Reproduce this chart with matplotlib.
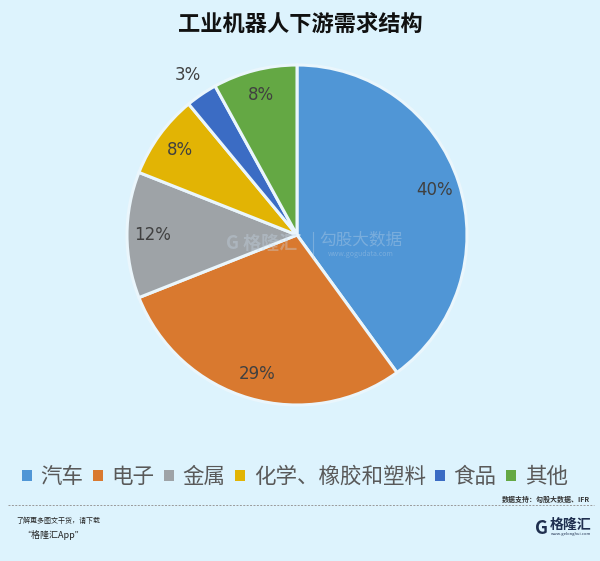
import matplotlib
matplotlib.use('Agg')
import matplotlib.pyplot as plt
import numpy as np
from matplotlib.patches import Patch
from matplotlib.lines import Line2D

plt.rcParams['font.family'] = ['Noto Sans CJK SC', 'DejaVu Sans']

# 数据
categories = ['汽车', '电子', '金属', '化学、橡胶和塑料', '食品', '其他']
shares = [40, 29, 12, 8, 3, 8]
colors = ['#5096D6', '#D9792F', '#9EA3A7', '#E2B404', '#3B6CC4', '#64A844']

bg = '#DDF3FD'
fig = plt.figure(figsize=(6, 5.61), dpi=100, facecolor=bg)
ax = fig.add_axes([297/600 - 170/600, 1 - 235/561 - 170/561, 340/600, 340/561])
ax.set_facecolor(bg)

wedges, texts = ax.pie(shares, colors=colors, startangle=90, counterclock=False,
                       wedgeprops=dict(edgecolor='#EAF6FC', linewidth=2.2),
                       radius=1.0)
ax.set_aspect('equal')
ax.set_xlim(-1, 1)
ax.set_ylim(-1, 1)

# 百分比标签
for w, v in zip(wedges, shares):
    ang = np.deg2rad((w.theta1 + w.theta2) / 2)
    r = 1.14 if v < 5 else 0.85
    ax.text(r * np.cos(ang), r * np.sin(ang), f'{v}%', ha='center', va='center',
            fontsize=12, color='#404040', family=['DejaVu Sans'])

fig.text(0.5, 1 - 24/561, '工业机器人下游需求结构', ha='center', va='center',
         fontsize=16, fontweight='bold', color='#111111')

# 水印
fig.text(262/600, 1 - 243/561, 'G 格隆汇', ha='center', va='center', fontsize=13,
         fontweight='bold', color='#C8D8E8', alpha=0.35)
fig.text(361/600, 1 - 240/561, '勾股大数据', ha='center', va='center', fontsize=12,
         color='#C8D8E8', alpha=0.35)
fig.text(361/600, 1 - 254/561, 'www.gogudata.com', ha='center', va='center', fontsize=5,
         color='#C8D8E8', alpha=0.35)
fig.add_artist(Line2D([313/600] * 2, [1 - 232/561, 1 - 258/561], color='#C8D8E8',
                      alpha=0.35, linewidth=0.8))

handles = [Patch(facecolor=c, edgecolor='none') for c in colors]
fig.legend(handles, categories, loc='center', bbox_to_anchor=(295/600, 1 - 477/561),
           ncol=6, frameon=False, fontsize=15.5, labelcolor='#595959',
           handlelength=0.45, handleheight=0.45, handletextpad=0.4,
           columnspacing=0.45, borderaxespad=0, borderpad=0)

fig.text(590/600, 1 - 499/561, '数据支持：勾股大数据、IFR', ha='right', va='center',
         fontsize=5, color='#333333', fontweight='bold')
fig.add_artist(Line2D([8/600, 594/600], [1 - 505/561] * 2, color='#999999',
                      linestyle=(0, (2, 1.5)), linewidth=0.7))

fig.text(16/600, 1 - 521/561, '了解更多图文干货，请下载', ha='left', va='center',
         fontsize=5, style='italic', color='#222222')
fig.text(22/600, 1 - 535/561, '“格隆汇App”', ha='left', va='center',
         fontsize=6.5, style='italic', color='#222222')
fig.text(542/600, 1 - 528/561, 'G', ha='center', va='center', fontsize=13,
         fontweight='bold', color='#1F2F4F')
fig.text(571/600, 1 - 525/561, '格隆汇', ha='center', va='center', fontsize=10,
         fontweight='bold', color='#1F2F4F')
fig.text(571/600, 1 - 534/561, 'www.gelonghui.com', ha='center', va='center',
         fontsize=3, color='#1F2F4F')

fig.savefig('out.png', dpi=100, facecolor=bg)
